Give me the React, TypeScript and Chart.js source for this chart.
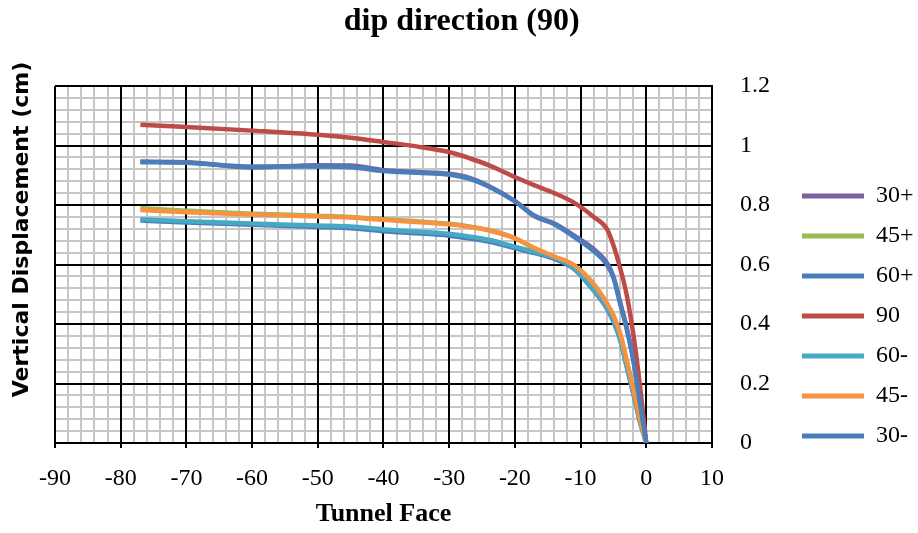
import React, { useEffect, useRef } from 'react';
import { Chart, registerables } from 'chart.js';

Chart.register(...registerables);

const SERIF = "'Liberation Serif', 'Times New Roman', serif";
const YTITLE_FONT = "'DejaVu Sans', Verdana, sans-serif";

const chartTitle = 'dip direction (90)';
const xAxisTitle = 'Tunnel Face';
const yAxisTitle = 'Vertical Displacement (cm)';

const tunnelFace = [-77, -70, -60, -50, -45, -40, -35, -30, -27, -24, -20, -17, -14, -11, -8, -6, -5, -4, -3, -2, -1, 0];

const series30p = [0.946, 0.944, 0.926, 0.934, 0.933, 0.918, 0.911, 0.905, 0.892, 0.864, 0.814, 0.764, 0.738, 0.698, 0.652, 0.606, 0.56, 0.475, 0.39, 0.285, 0.145, 0];
const series45p = [0.789, 0.781, 0.771, 0.764, 0.76, 0.752, 0.745, 0.737, 0.728, 0.716, 0.689, 0.653, 0.625, 0.596, 0.533, 0.468, 0.428, 0.367, 0.278, 0.183, 0.083, 0];
const series60p = [0.748, 0.741, 0.734, 0.726, 0.722, 0.712, 0.705, 0.697, 0.688, 0.677, 0.655, 0.638, 0.619, 0.585, 0.512, 0.452, 0.408, 0.348, 0.258, 0.168, 0.074, 0];
const series90 = [1.07, 1.062, 1.05, 1.036, 1.026, 1.012, 0.997, 0.978, 0.958, 0.934, 0.894, 0.866, 0.84, 0.808, 0.76, 0.72, 0.665, 0.59, 0.5, 0.37, 0.2, 0];
const series60m = [0.752, 0.745, 0.738, 0.731, 0.728, 0.718, 0.711, 0.703, 0.694, 0.683, 0.66, 0.642, 0.623, 0.588, 0.515, 0.455, 0.41, 0.35, 0.26, 0.17, 0.075, 0];
const series45m = [0.783, 0.776, 0.768, 0.761, 0.758, 0.75, 0.743, 0.735, 0.727, 0.715, 0.688, 0.655, 0.627, 0.598, 0.535, 0.47, 0.43, 0.37, 0.28, 0.185, 0.085, 0];
const series30m = [0.944, 0.942, 0.929, 0.929, 0.927, 0.914, 0.908, 0.902, 0.889, 0.862, 0.812, 0.762, 0.735, 0.693, 0.645, 0.6, 0.555, 0.47, 0.385, 0.28, 0.14, 0];

const seriesLabels = ['30+', '45+', '60+', '90', '60-', '45-', '30-'];
const seriesColors = ['#7D60A0', '#98B954', '#4A7EBB', '#BE4B48', '#46AAC5', '#F69240', '#4A7EBB'];

const xTickLabels = ['-90', '-80', '-70', '-60', '-50', '-40', '-30', '-20', '-10', '0', '10'];
const yTickLabels = ['0', '0.2', '0.4', '0.6', '0.8', '1', '1.2'];

const yTitlePlugin = {
  id: 'yTitleText',
  afterDraw(chart: any) {
    const { ctx, chartArea } = chart;
    ctx.save();
    ctx.translate(chartArea.left - 33, (chartArea.top + chartArea.bottom) / 2 - 35);
    ctx.rotate(-Math.PI / 2);
    ctx.font = `bold 22px ${YTITLE_FONT}`;
    ctx.fillStyle = '#000';
    ctx.textAlign = 'center';
    ctx.textBaseline = 'middle';
    ctx.fillText(yAxisTitle, 0, 0);
    ctx.restore();
  },
};

export default function App() {
  const ref = useRef<HTMLCanvasElement>(null);

  useEffect(() => {
    const canvas = ref.current;
    if (!canvas) return;
    const allSeries = [series30p, series45p, series60p, series90, series60m, series45m, series30m];
    const datasets = allSeries.map((vals, i) => ({
      label: seriesLabels[i],
      data: tunnelFace.map((x, j) => ({ x, y: vals[j] })),
      borderColor: seriesColors[i],
      backgroundColor: seriesColors[i],
      borderWidth: 4.5,
      pointRadius: 0,
      cubicInterpolationMode: 'monotone' as const,
      fill: false,
      order: allSeries.length - i,
      xAxisID: 'x',
      yAxisID: 'y',
    }));

    const legendFont = { family: SERIF, size: 24 };

    const chart = new Chart(canvas, {
      type: 'line',
      data: { datasets },
      plugins: [yTitlePlugin],
      options: {
        responsive: false,
        animation: false,
        layout: { padding: { left: 0, right: -5.5, top: 0, bottom: 0 } },
        plugins: {
          tooltip: { enabled: false },
          title: {
            display: true,
            text: chartTitle,
            color: '#000',
            font: { family: SERIF, size: 32, weight: 'bold' },
            padding: { top: 3, bottom: 44.6 },
          },
          legend: {
            position: 'right',
            align: 'center',
            maxWidth: 140,
            title: { display: true, text: '', font: { family: SERIF, size: 24, lineHeight: 1 }, padding: { top: 75, bottom: 0 } },
            labels: {
              boxWidth: 62,
              boxHeight: 5,
              padding: 16,
              color: '#000',
              font: legendFont,
              generateLabels: (c: any) =>
                c.data.datasets.map((ds: any, i: number) => ({
                  text: ds.label,
                  fillStyle: ds.borderColor,
                  strokeStyle: ds.borderColor,
                  lineWidth: 0,
                  hidden: false,
                  datasetIndex: i,
                  fontColor: '#000',
                })),
            },
          },
        },
        scales: {
          x: {
            type: 'linear',
            position: 'bottom',
            min: -90,
            max: 10,
            ticks: {
              stepSize: 10,
              autoSkip: false,
              maxRotation: 0,
              padding: 16,
              color: '#000',
              font: { family: SERIF, size: 24 },
              callback: (_v: any, i: number) => xTickLabels[i] ?? '',
            },
            grid: { color: '#000', lineWidth: 2, tickLength: 5, tickColor: '#000', tickWidth: 2, drawTicks: true },
            border: { display: true, color: '#000', width: 2 },
            title: {
              display: true,
              text: xAxisTitle,
              color: '#000',
              font: { family: SERIF, size: 26, weight: 'bold' },
              padding: { top: 6, bottom: 3 },
            },
            afterFit: (s: any) => { s.height = 90; },
          },
          xMinor: {
            type: 'linear',
            position: 'bottom',
            min: -90,
            max: 10,
            ticks: { display: false, stepSize: 2 },
            grid: { color: '#C6C6C6', lineWidth: 2, drawTicks: false, z: -2 },
            border: { display: false },
            afterFit: (s: any) => { s.height = 0; },
          },
          y: {
            type: 'linear',
            position: 'right',
            min: 0,
            max: 1.2,
            ticks: {
              stepSize: 0.2,
              autoSkip: false,
              padding: 28,
              color: '#000',
              font: { family: SERIF, size: 24 },
              callback: (_v: any, i: number) => yTickLabels[i] ?? '',
            },
            grid: { color: '#000', lineWidth: 2, drawTicks: false },
            border: { display: true, color: '#000', width: 2 },
            afterFit: (s: any) => { s.width = 74; },
          },
          yMinor: {
            type: 'linear',
            position: 'right',
            min: 0,
            max: 1.2,
            ticks: { display: false, stepSize: 0.04 },
            grid: { color: '#C6C6C6', lineWidth: 2, drawTicks: false, z: -2 },
            border: { display: false },
            afterFit: (s: any) => { s.width = 0; },
          },
          yTitle: {
            type: 'linear',
            position: 'left',
            min: 0,
            max: 1.2,
            ticks: { display: false },
            grid: { display: false, drawTicks: false },
            border: { display: false },
            title: { display: false },
            afterFit: (s: any) => { s.width = 55; },
          },
        },
      } as any,
    });
    return () => chart.destroy();
  }, []);

  return (
    <div style={{ position: 'absolute', left: 0, top: 0, width: 918, height: 533, background: '#fff' }}>
      <canvas ref={ref} width={918} height={533} style={{ display: 'block' }} />
    </div>
  );
}
